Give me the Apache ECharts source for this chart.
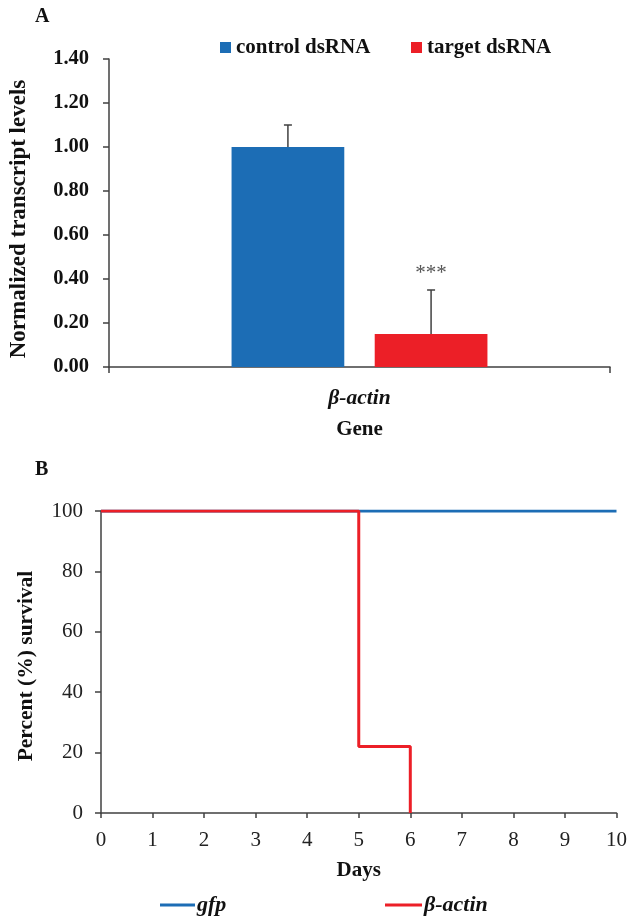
<!DOCTYPE html>
<html>
<head>
<meta charset="utf-8">
<script src="https://cdn.jsdelivr.net/npm/echarts@6/dist/echarts.min.js"></script>
<style>
  html, body { margin: 0; padding: 0; background: #fff; }
  #main { width: 630px; height: 916px; }
</style>
</head>
<body>
<div id="main"></div>
<script>
// 数据
var genes = ['β-actin'];
var controlMean = [1.00];
var controlErr = [0.10];
var targetMean = [0.15];
var targetErr = [0.20];
var targetSig = ['***'];

// 存活曲线 (step)
var gfpDays = [0, 10];
var gfpSurvival = [100, 100];
var actinDays = [0, 5, 6];
var actinSurvival = [100, 22, 0];

var FONT = '"Liberation Serif", "Times New Roman", serif';
var AXIS = '#404040';
var BLUE = '#1c6db5';
var RED = '#ec1f27';
var BAR_W = 0.225;   // fraction of band
var BAR_GAP = 0.27;  // fraction of bar width

var myChart = echarts.init(document.getElementById('main'));

function errItem(sign, means, errs, sig) {
  return function (params, api) {
    var i = api.value(0);
    var band = api.size([1, 0])[0];
    var off = sign * band * BAR_W * (1 + BAR_GAP) / 2;
    var base = api.coord([i, means[params.dataIndex]]);
    var top = api.coord([i, means[params.dataIndex] + errs[params.dataIndex]]);
    var x = base[0] + off;
    var style = { stroke: AXIS, lineWidth: 1.5 };
    var children = [
      { type: 'line', shape: { x1: x, y1: base[1], x2: x, y2: top[1] }, style: style },
      { type: 'line', shape: { x1: x - 4, y1: top[1], x2: x + 4, y2: top[1] }, style: style }
    ];
    if (sig) {
      children.push({
        type: 'text',
        style: { x: x, y: top[1] - 17, text: sig[params.dataIndex], fill: '#555', font: '21px ' + FONT, align: 'center', verticalAlign: 'middle' }
      });
    }
    return { type: 'group', children: children };
  };
}

var legendText = { fontFamily: FONT, fontSize: 21, fontWeight: 'bold', color: '#111' };
var legendTextIt = { fontFamily: FONT, fontSize: 22, fontWeight: 'bold', fontStyle: 'italic', color: '#111', padding: [0, 0, 0, -3] };

var option = {
  animation: false,
  textStyle: { fontFamily: FONT },
  title: [
    { text: 'A', left: 30, top: 2, textStyle: { fontFamily: FONT, fontSize: 20, fontWeight: 'bold', color: '#111' } },
    { text: 'B', left: 30, top: 455, textStyle: { fontFamily: FONT, fontSize: 20, fontWeight: 'bold', color: '#111' } }
  ],
  legend: [
    { data: ['control dsRNA'], left: 215, top: 32, icon: 'rect', itemWidth: 11, itemHeight: 11, itemGap: 4, textStyle: legendText },
    { data: ['target dsRNA'], left: 406, top: 32, icon: 'rect', itemWidth: 11, itemHeight: 11, itemGap: 4, textStyle: legendText },
    { data: ['gfp'], left: 155, top: 889, icon: 'rect', itemWidth: 35, itemHeight: 3, textStyle: legendTextIt },
    { data: ['β-actin'], left: 380, top: 889, icon: 'rect', itemWidth: 37, itemHeight: 3, textStyle: legendTextIt }
  ],
  grid: [
    { left: 104, right: 20, top: 59, height: 308 },
    { left: 101, right: 12, top: 511, height: 302 }
  ],
  xAxis: [
    {
      type: 'category', gridIndex: 0, data: genes,
      name: 'Gene', nameLocation: 'middle', nameGap: 52,
      nameTextStyle: { fontFamily: FONT, fontSize: 21, fontWeight: 'bold', color: '#111' },
      axisLine: { lineStyle: { color: AXIS, width: 1.5 } },
      axisTick: { show: true, length: 6, lineStyle: { color: AXIS, width: 1.5 } },
      axisLabel: { margin: 20, fontFamily: FONT, fontSize: 21.5, fontWeight: 'bold', fontStyle: 'italic', color: '#111' }
    },
    {
      type: 'value', gridIndex: 1, min: 0, max: 10, interval: 1,
      name: 'Days', nameLocation: 'middle', nameGap: 47,
      nameTextStyle: { fontFamily: FONT, fontSize: 21, fontWeight: 'bold', color: '#111' },
      splitLine: { show: false },
      axisLine: { lineStyle: { color: AXIS, width: 1.5 } },
      axisTick: { show: true, length: 5, lineStyle: { color: AXIS, width: 1.5 } },
      axisLabel: { margin: 17, fontFamily: FONT, fontSize: 21, color: '#222' }
    }
  ],
  yAxis: [
    {
      type: 'value', gridIndex: 0, min: 0, max: 1.4, interval: 0.2,
      name: 'Normalized transcript levels', nameLocation: 'middle', nameGap: 78,
      nameTextStyle: { fontFamily: FONT, fontSize: 23, fontWeight: 'bold', color: '#111', padding: [0, 12, 0, 0] },
      splitLine: { show: false },
      axisLine: { show: true, lineStyle: { color: AXIS, width: 1.5 } },
      axisTick: { show: true, length: 6, lineStyle: { color: AXIS, width: 1.5 } },
      axisLabel: { margin: 20, fontFamily: FONT, fontSize: 20.5, fontWeight: 'bold', color: '#111',
        formatter: function (v) { return v.toFixed(2); } }
    },
    {
      type: 'value', gridIndex: 1, min: 0, max: 100, interval: 20,
      name: 'Percent (%) survival', nameLocation: 'middle', nameGap: 64,
      nameTextStyle: { fontFamily: FONT, fontSize: 21.5, fontWeight: 'bold', color: '#111', padding: [0, 8, 0, 0] },
      splitLine: { show: false },
      axisLine: { show: true, lineStyle: { color: AXIS, width: 1.5 } },
      axisTick: { show: true, length: 6, lineStyle: { color: AXIS, width: 1.5 } },
      axisLabel: { margin: 18, fontFamily: FONT, fontSize: 21, color: '#222' }
    }
  ],
  series: [
    {
      name: 'control dsRNA', type: 'bar', xAxisIndex: 0, yAxisIndex: 0,
      barWidth: (BAR_W * 100) + '%', barGap: (BAR_GAP * 100) + '%',
      itemStyle: { color: BLUE }, data: controlMean
    },
    {
      name: 'target dsRNA', type: 'bar', xAxisIndex: 0, yAxisIndex: 0,
      barWidth: (BAR_W * 100) + '%', barGap: (BAR_GAP * 100) + '%',
      itemStyle: { color: RED }, data: targetMean
    },
    {
      type: 'custom', xAxisIndex: 0, yAxisIndex: 0, z: 5,
      renderItem: errItem(-1, controlMean, controlErr, null),
      data: genes.map(function (g, i) { return [i, controlMean[i] + controlErr[i]]; })
    },
    {
      type: 'custom', xAxisIndex: 0, yAxisIndex: 0, z: 5,
      renderItem: errItem(1, targetMean, targetErr, targetSig),
      data: genes.map(function (g, i) { return [i, targetMean[i] + targetErr[i]]; })
    },
    {
      name: 'gfp', type: 'line', xAxisIndex: 1, yAxisIndex: 1, step: 'end',
      showSymbol: false, symbol: 'none',
      lineStyle: { color: BLUE, width: 3 }, itemStyle: { color: BLUE },
      data: gfpDays.map(function (d, i) { return [d, gfpSurvival[i]]; })
    },
    {
      name: 'β-actin', type: 'line', xAxisIndex: 1, yAxisIndex: 1, step: 'end',
      showSymbol: false, symbol: 'none',
      lineStyle: { color: RED, width: 3 }, itemStyle: { color: RED },
      data: actinDays.map(function (d, i) { return [d, actinSurvival[i]]; })
    }
  ]
};

myChart.setOption(option);
</script>
</body>
</html>
